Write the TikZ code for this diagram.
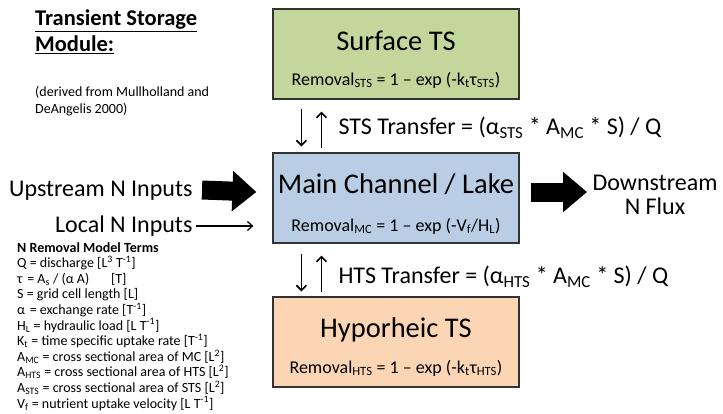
\documentclass[tikz,border=0pt]{standalone}
\usepackage{fontspec}
\setmainfont{Carlito}
\usetikzlibrary{arrows.meta}

\definecolor{surfgreen}{HTML}{C3D69B}
\definecolor{mainblue}{HTML}{B9CDE5}
\definecolor{hypoorange}{HTML}{FCD5B5}

\tikzset{
  tsbox/.style={draw=black!80, line width=1.2pt, minimum width=246pt, minimum height=90pt, inner sep=0pt},
  ttl/.style={font=\fontsize{28.5}{32}\selectfont},
  rmv/.style={font=\fontsize{18}{21}\selectfont},
  lbl/.style={font=\fontsize{24}{24}\selectfont},
  fatarrow/.style={line width=19pt, -{Triangle[length=24pt, width=39pt]}},
  xfer/.style={line width=1.6pt, -{Straight Barb[length=5pt,width=10pt]}}
}

\begin{document}
\begin{tikzpicture}[x=1pt, y=-1pt]
\useasboundingbox (0,0) rectangle (723,413);

% storage boxes
\node[tsbox, fill=surfgreen] (surf) at (396,54) {};
\node[tsbox, fill=mainblue] (main) at (396,198) {};
\node[tsbox, fill=hypoorange] (hypo) at (396,342) {};

% box texts
\node[ttl] (surfttl) at (396,41) {Surface TS};
\node[rmv] (surfrmv) at (396,80) {Removal\textsubscript{STS} = 1 -- exp (-k\textsubscript{t}τ\textsubscript{STS})};
\node[ttl] (mainttl) at (396,184) {Main Channel / Lake};
\node[rmv] (mainrmv) at (396,226) {Removal\textsubscript{MC} = 1 -- exp (-V\textsubscript{f}/H\textsubscript{L})};
\node[ttl] (hypottl) at (396,330) {Hyporheic TS};
\node[rmv] (hypormv) at (396,368) {Removal\textsubscript{HTS} = 1 -- exp (-k\textsubscript{t}τ\textsubscript{HTS})};

% exchange arrows
\draw[xfer] ([xshift=29pt,yshift=-9pt]surf.south west) -- ([xshift=29pt,yshift=6pt]main.north west);
\draw[xfer] ([xshift=49pt,yshift=4pt]main.north west) -- ([xshift=49pt,yshift=-12pt]surf.south west);
\draw[xfer] ([xshift=29pt,yshift=-10pt]main.south west) -- ([xshift=29pt,yshift=5pt]hypo.north west);
\draw[xfer] ([xshift=49pt,yshift=4pt]hypo.north west) -- ([xshift=49pt,yshift=-12pt]main.south west);
\node[lbl, anchor=west] (stsx) at (335,128) {STS Transfer = (α\textsubscript{STS} * A\textsubscript{MC} * S) / Q};
\node[lbl, anchor=west] (htsx) at (335,277) {HTS Transfer = (α\textsubscript{HTS} * A\textsubscript{MC} * S) / Q};

% inputs and outputs
\node[lbl, anchor=east] (uptxt) at (196,191) {Upstream N Inputs};
\node[lbl, anchor=east] (loctxt) at (196,226) {Local N Inputs};
\node[lbl, align=center] (downtxt) at (655,195) {Downstream\\N Flux};
\draw[fatarrow] ([xshift=6pt,yshift=1pt]uptxt.east) -- ([xshift=-16pt]main.west |- 0,192);
\draw[line width=1.3pt, -{Straight Barb[length=5pt,width=9pt]}] (loctxt.east) -- ([xshift=-19pt]main.west |- loctxt.east);
\draw[fatarrow] ([xshift=11pt]main.east |- 0,192) -- (587,192);

% module title and terms
\node[anchor=north west, align=left, inner sep=0pt, font=\fontsize{22.5}{26}\selectfont\bfseries] (title) at (35,10)
  {\underline{Transient Storage}\\\underline{Module:}};
\node[anchor=west, align=left, inner sep=0pt, font=\fontsize{14}{17}\selectfont] (source) at (35,101)
  {(derived from Mullholland and\\DeAngelis 2000)};
\node[anchor=north west, align=left, inner sep=0pt, font=\fontsize{14}{15.6}\selectfont] (terms) at (17,242)
  {\textbf{N Removal Model Terms}\\
  Q = discharge [L\textsuperscript{3} T\textsuperscript{-1}]\\
  τ\,\,= A\textsubscript{s} / (α A)\quad\,\, [T]\\
  S = grid cell length [L]\\
  α\,\,= exchange rate [T\textsuperscript{-1}]\\
  H\textsubscript{L} = hydraulic load [L T\textsuperscript{-1}]\\
  K\textsubscript{t} = time specific uptake rate [T\textsuperscript{-1}]\\
  A\textsubscript{MC} = cross sectional area of MC [L\textsuperscript{2}]\\
  A\textsubscript{HTS} = cross sectional area of HTS [L\textsuperscript{2}]\\
  A\textsubscript{STS} = cross sectional area of STS [L\textsuperscript{2}]\\
  V\textsubscript{f} = nutrient uptake velocity [L T\textsuperscript{-1}]};
\end{tikzpicture}
\end{document}
